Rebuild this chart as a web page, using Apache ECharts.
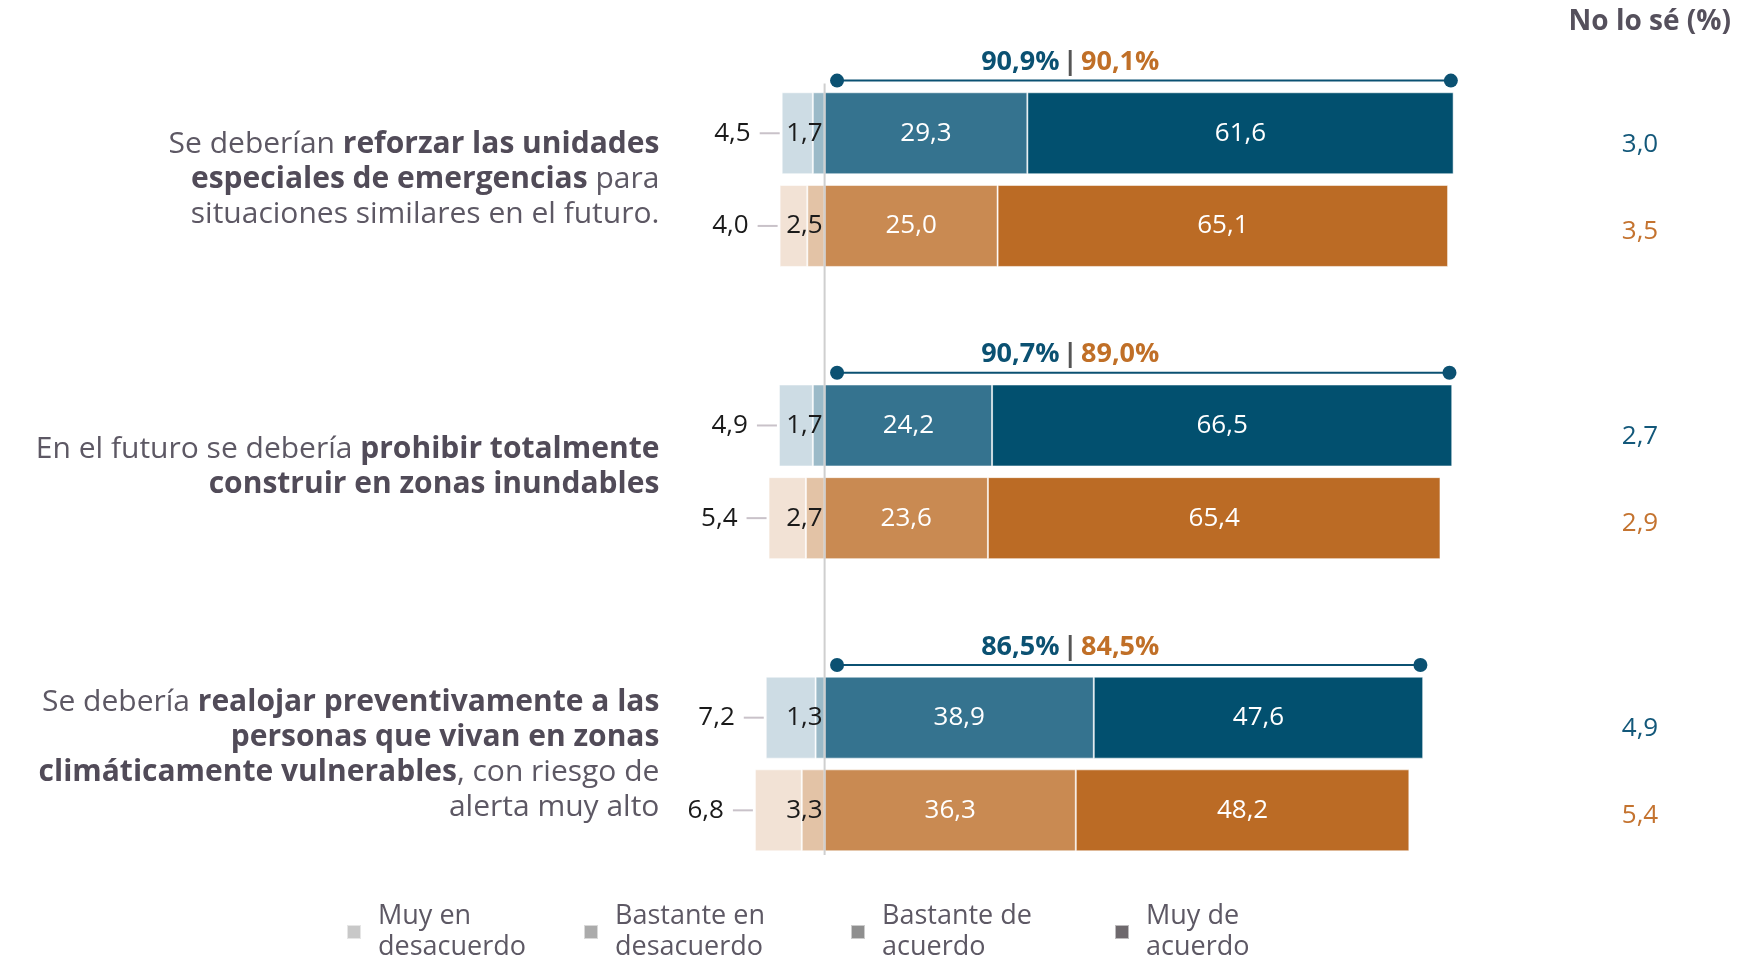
<!DOCTYPE html>
<html>
<head>
<meta charset="utf-8">
<script src="https://cdn.jsdelivr.net/npm/echarts@6/dist/echarts.min.js"></script>
<style>
  html, body { margin: 0; padding: 0; background: #fff; }
  #chart { width: 1752px; height: 962px; }
</style>
</head>
<body>
<div id="chart"></div>
<script>
// preguntas (con negritas)
var categories = [
    '{n|Se deberían }{b|reforzar las unidades}\n{b|especiales de emergencias}{n| para}\n{n|situaciones similares en el futuro.}',
    '{n|En el futuro se debería }{b|prohibir totalmente}\n{b|construir en zonas inundables}',
    '{n|Se debería }{b|realojar preventivamente a las}\n{b|personas que vivan en zonas}\n{b|climáticamente vulnerables}{n|, con riesgo de}\n{n|alerta muy alto}'
];
var legendNames = ['Muy en desacuerdo', 'Bastante en desacuerdo', 'Bastante de acuerdo', 'Muy de acuerdo'];
var legendLabels = ['Muy en\ndesacuerdo', 'Bastante en\ndesacuerdo', 'Bastante de\nacuerdo', 'Muy de\nacuerdo'];

// serie azul
var blueMuyDes = [4.5, 4.9, 7.2];
var blueBastDes = [1.7, 1.7, 1.3];
var blueBastAc = [29.3, 24.2, 38.9];
var blueMuyAc = [61.6, 66.5, 47.6];
var blueNoSe = [3.0, 2.7, 4.9];
var blueTotal = [90.9, 90.7, 86.5];

// serie naranja
var orangeMuyDes = [4.0, 5.4, 6.8];
var orangeBastDes = [2.5, 2.7, 3.3];
var orangeBastAc = [25.0, 23.6, 36.3];
var orangeMuyAc = [65.1, 65.4, 48.2];
var orangeNoSe = [3.5, 2.9, 5.4];
var orangeTotal = [90.1, 89.0, 84.5];

var FONT = 'Open Sans';
var BLUE = '#0b5172', ORANGE = '#c06f27';

var fmt = function (v) {
    return Math.abs(v).toFixed(1).replace('.', ',');
};
var neg = function (arr) {
    return arr.map(function (v) { return -v; });
};

var chart = echarts.init(document.getElementById('chart'));

// etiqueta de fuera con rayita
var outerLabel = {
    show: true,
    position: 'left',
    distance: 2,
    formatter: function (p) { return '{v|' + fmt(p.value) + '}{l|}'; },
    rich: {
        v: { fontFamily: FONT, fontSize: 26, color: '#1a1a1a', padding: [0, 9, 0, 0] },
        l: { width: 20, height: 2, backgroundColor: '#c9c2c9' }
    }
};
var smallLabel = {
    show: true,
    position: 'insideRight',
    distance: 2,
    formatter: function (p) { return fmt(p.value); },
    fontFamily: FONT, fontSize: 26, color: '#1a1a1a'
};
var innerLabel = {
    show: true,
    position: 'inside',
    formatter: function (p) { return fmt(p.value); },
    fontFamily: FONT, fontSize: 26, color: '#fff'
};

var makeBar = function (name, stack, data, color, label) {
    return {
        name: name,
        type: 'bar',
        stack: stack,
        data: data,
        barWidth: 82,
        barGap: '13%',
        itemStyle: { color: color, borderColor: 'rgba(255,255,255,0.55)', borderWidth: 1 },
        label: label,
        emphasis: { disabled: true }
    };
};

var series = [
    makeBar(legendNames[1], 'blue', neg(blueBastDes), '#9bbac8', smallLabel),
    makeBar(legendNames[0], 'blue', neg(blueMuyDes), '#cddce4', outerLabel),
    makeBar(legendNames[2], 'blue', blueBastAc, '#35738f', innerLabel),
    makeBar(legendNames[3], 'blue', blueMuyAc, '#02506f', innerLabel),
    makeBar(legendNames[1], 'orange', neg(orangeBastDes), '#e3c3a6', smallLabel),
    makeBar(legendNames[0], 'orange', neg(orangeMuyDes), '#f2e2d5', outerLabel),
    makeBar(legendNames[2], 'orange', orangeBastAc, '#c98a52', innerLabel),
    makeBar(legendNames[3], 'orange', orangeMuyAc, '#bb6b25', innerLabel)
];

// corchete con totales de acuerdo + linea del cero
series.push({
    type: 'custom',
    coordinateSystem: 'cartesian2d',
    clip: false,
    z: 10,
    silent: true,
    data: blueTotal.map(function (t, i) { return [t, i]; }),
    renderItem: function (params, api) {
        var i = api.value(1);
        var yc = api.coord([0, i])[1];
        var x1 = api.coord([1.8, i])[0];
        var x2 = api.coord([api.value(0) - 0.4, i])[0];
        var xt = api.coord([35.5, i])[0];
        var y = yc - 99;
        var children = [
            { type: 'line', shape: { x1: x1, y1: y, x2: x2, y2: y }, style: { stroke: BLUE, lineWidth: 2 } },
            { type: 'circle', shape: { cx: x1, cy: y, r: 7 }, style: { fill: BLUE } },
            { type: 'circle', shape: { cx: x2, cy: y, r: 7 }, style: { fill: BLUE } },
            {
                type: 'text',
                x: xt, y: yc - 117,
                style: {
                    text: '{a|' + fmt(blueTotal[i]) + '%} {s||} {o|' + fmt(orangeTotal[i]) + '%}',
                    align: 'center', verticalAlign: 'middle',
                    rich: {
                        a: { fontFamily: FONT, fontSize: 27, fontWeight: 'bold', fill: BLUE },
                        s: { fontFamily: FONT, fontSize: 27, fontWeight: 'bold', fill: '#555' },
                        o: { fontFamily: FONT, fontSize: 27, fontWeight: 'bold', fill: ORANGE }
                    }
                }
            }
        ];
        if (i === 0) {
            var x0 = api.coord([0, 0])[0];
            var yEnd = api.coord([0, categories.length - 1])[1] + 91;
            children.push({
                type: 'line',
                shape: { x1: x0, y1: yc - 96, x2: x0, y2: yEnd },
                style: { stroke: '#cfcfcf', lineWidth: 2 }
            });
        }
        return { type: 'group', children: children };
    }
});

// columna "No lo sé"
series.push({
    type: 'custom',
    coordinateSystem: 'cartesian2d',
    clip: false,
    silent: true,
    data: blueNoSe.map(function (v, i) { return [0, i]; }),
    renderItem: function (params, api) {
        var i = api.value(1);
        var yc = api.coord([0, i])[1];
        var x = api.getWidth() - 112;
        return {
            type: 'group',
            children: [
                { type: 'text', x: x, y: yc - 35, style: { text: fmt(blueNoSe[i]), align: 'center', verticalAlign: 'middle', fontFamily: FONT, fontSize: 26, fill: '#13587a' } },
                { type: 'text', x: x, y: yc + 52, style: { text: fmt(orangeNoSe[i]), align: 'center', verticalAlign: 'middle', fontFamily: FONT, fontSize: 26, fill: '#c4732f' } }
            ]
        };
    }
});

var legendIcons = ['#c8c8c8', '#ababab', '#8f8f8f', '#6e696d'];
var legendLeft = [341, 578, 845, 1109];
var legends = legendNames.map(function (n, k) {
    return {
        left: legendLeft[k],
        top: 896,
        itemWidth: 14,
        itemHeight: 14,
        icon: 'rect',
        selectedMode: false,
        data: [{ name: n, itemStyle: { color: legendIcons[k] } }],
        formatter: function () { return legendLabels[k]; },
        textStyle: { fontFamily: FONT, fontSize: 27, lineHeight: 31, color: '#5d5864', padding: [0, 0, 0, 12] }
    };
});

// pequeño ajuste vertical de los textos largos
var labelLift = [0, 9, 18];

var option = {
    animation: false,
    title: {
        text: 'No lo sé (%)',
        right: 16,
        top: 3,
        textStyle: { fontFamily: FONT, fontSize: 28, fontWeight: 'bold', color: '#55505c' }
    },
    legend: legends,
    grid: { left: 755.4, right: 235.4, top: 33.5, bottom: 51.9 },
    xAxis: {
        type: 'value',
        min: -10,
        max: 100,
        show: false
    },
    yAxis: {
        type: 'category',
        inverse: true,
        data: categories.map(function (c, i) {
            return { value: c, textStyle: { padding: [0, 0, labelLift[i], 0] } };
        }),
        axisLine: { show: false },
        axisTick: { show: false },
        axisLabel: {
            margin: 96,
            align: 'right',
            formatter: function (v) { return v; },
            rich: {
                n: { fontFamily: FONT, fontSize: 30, lineHeight: 35, color: '#5d5864' },
                b: { fontFamily: FONT, fontSize: 30, lineHeight: 35, fontWeight: 'bold', color: '#514b58' }
            }
        }
    },
    series: series
};

chart.setOption(option);
</script>
</body>
</html>
